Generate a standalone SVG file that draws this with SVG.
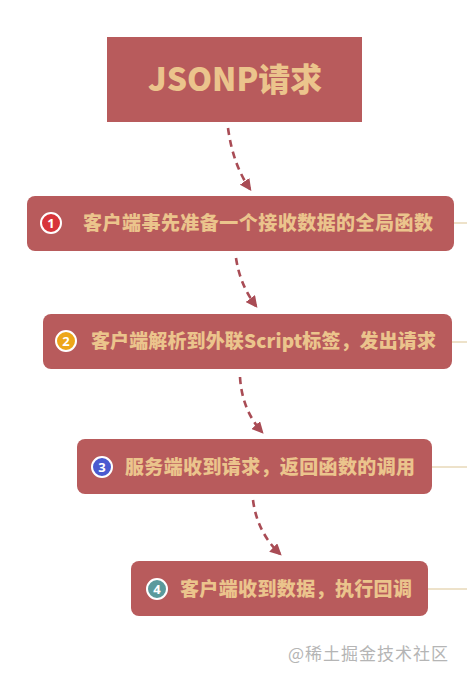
<svg xmlns="http://www.w3.org/2000/svg" width="467" height="681" viewBox="0 0 467 681">
<defs>
<style>
.box{fill:#b85b5c;}
.title{font-family:"Noto Sans CJK SC","Noto Sans",sans-serif;font-weight:900;font-size:32px;fill:#ebc48c;}
.lbl{font-family:"Noto Sans CJK SC","Noto Sans",sans-serif;font-weight:900;font-size:19px;fill:#ebc48c;}
.num{font-family:"Noto Sans","DejaVu Sans",sans-serif;font-weight:bold;font-size:13px;fill:#ffffff;}
.ring{stroke:#ffffff;stroke-width:2;}
.conn{fill:none;stroke:#a94c55;stroke-width:2.6;stroke-dasharray:7 5;}
.side{stroke:#dcc595;stroke-width:1;}
.wm{font-family:"Noto Sans CJK SC",sans-serif;font-size:17px;fill:#b5b5b5;}
</style>
<marker id="ah" viewBox="0 0 10 10" refX="8" refY="5" markerWidth="4.5" markerHeight="4.5" orient="auto" markerUnits="strokeWidth">
<path d="M0,0 L10,5 L0,10 z" fill="#a94c55"/>
</marker>
</defs>
<rect width="467" height="681" fill="#ffffff"/>
<g id="connectors">
<path class="conn" d="M228,128 Q233,165 250,189" marker-end="url(#ah)"/>
<path class="conn" d="M236,258 Q240,285 256,306" marker-end="url(#ah)"/>
<path class="conn" d="M240,377 Q242,410 262,432" marker-end="url(#ah)"/>
<path class="conn" d="M253,500 Q257,532 280,554" marker-end="url(#ah)"/>
<line class="side" x1="454" y1="223" x2="467" y2="223"/>
<line class="side" x1="452" y1="342" x2="467" y2="342"/>
<line class="side" x1="432" y1="467" x2="467" y2="467"/>
<line class="side" x1="428" y1="589" x2="467" y2="589"/>
</g>
<g id="title">
<rect class="box" x="107" y="37" width="255" height="85"/>
<text class="title" x="148" y="91" textLength="174" lengthAdjust="spacingAndGlyphs">JSONP请求</text>
</g>
<g id="step1">
<rect class="box" x="27" y="196" width="427" height="55" rx="8"/>
<circle class="ring" cx="51" cy="223" r="10" fill="#d8343a"/>
<text class="num" x="51" y="227.5" text-anchor="middle">1</text>
<text class="lbl" x="83" y="230" textLength="350" lengthAdjust="spacing">客户端事先准备一个接收数据的全局函数</text>
</g>
<g id="step2">
<rect class="box" x="43" y="314" width="409" height="55" rx="8"/>
<circle class="ring" cx="66" cy="341" r="10" fill="#eda619"/>
<text class="num" x="66" y="345.5" text-anchor="middle">2</text>
<text class="lbl" x="91" y="348" textLength="345" lengthAdjust="spacing">客户端解析到外联Script标签，发出请求</text>
</g>
<g id="step3">
<rect class="box" x="77" y="439" width="355" height="55" rx="8"/>
<circle class="ring" cx="102" cy="467" r="10" fill="#4a5ad0"/>
<text class="num" x="102" y="471.5" text-anchor="middle">3</text>
<text class="lbl" x="125" y="474" textLength="290" lengthAdjust="spacing">服务端收到请求，返回函数的调用</text>
</g>
<g id="step4">
<rect class="box" x="131" y="561" width="297" height="55" rx="8"/>
<circle class="ring" cx="157" cy="589" r="10" fill="#5a9a9c"/>
<text class="num" x="157" y="593.5" text-anchor="middle">4</text>
<text class="lbl" x="180" y="596" textLength="232" lengthAdjust="spacing">客户端收到数据，执行回调</text>
</g>
<text class="wm" x="288" y="660" textLength="160" lengthAdjust="spacing">@稀土掘金技术社区</text>
</svg>
